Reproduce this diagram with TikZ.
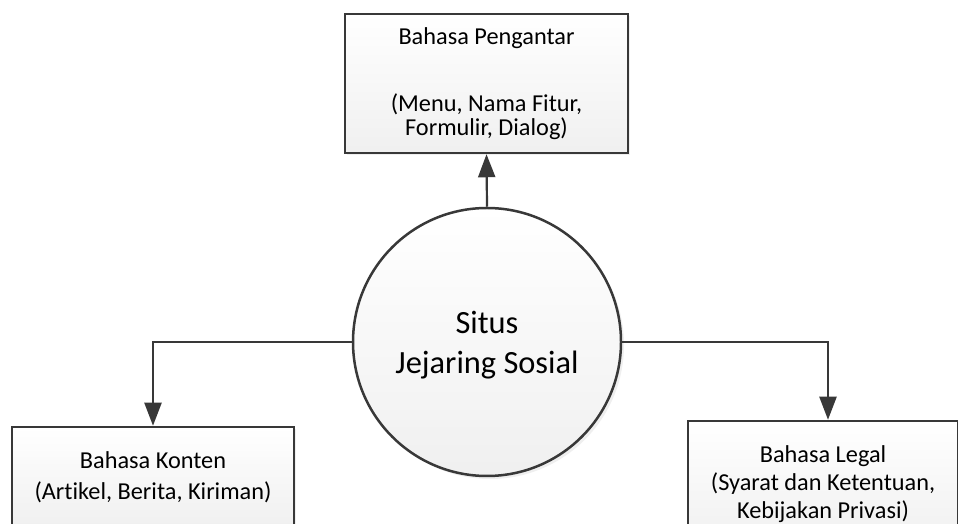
\documentclass[tikz,border=0pt]{standalone}
\usepackage{fontspec}
\setmainfont{Carlito}[Ligatures=NoCommon]
\usetikzlibrary{positioning,arrows.meta,shadows}

\tikzset{
  boxnode/.style={draw=black!78,line width=2.5pt,rectangle,top color=white,bottom color=black!6,
    align=center,inner sep=0pt,drop shadow={shadow xshift=2pt,shadow yshift=-2pt,fill=black!12}},
  hubnode/.style={draw=black!78,line width=2.5pt,circle,top color=white,bottom color=black!6,
    inner sep=0pt,minimum size=268pt,
    drop shadow={shadow xshift=3pt,shadow yshift=-3pt,fill=black!12}},
  flowarrow/.style={draw=black!78,line width=2.2pt,-{Triangle[length=23pt,width=17pt]}}
}

\begin{document}
\begin{tikzpicture}[x=1pt,y=1pt]
\useasboundingbox (0,0) rectangle (958,524);
\fill[white] (0,0) rectangle (958,524);
% centre
\node[hubnode] (situs) at (487,182) {};
\node[align=center,font=\fontsize{32.4}{40}\selectfont] (situstext) at ([yshift=-3pt]situs.center)
  {Situs\\Jejaring Sosial};
% boxes
\node[boxnode,minimum width=283pt,minimum height=139pt,font=\fontsize{24.3}{23.5}\selectfont]
  (pengantar) at (486.5,440.5) {Bahasa Pengantar\\[44pt](Menu, Nama Fitur,\\Formulir, Dialog)};
\node[boxnode,minimum width=282pt,minimum height=101pt,font=\fontsize{24.3}{31}\selectfont]
  (konten) at (153,46.5) {Bahasa Konten\\(Artikel, Berita, Kiriman)};
\node[boxnode,minimum width=270pt,minimum height=126pt,font=\fontsize{24.3}{28}\selectfont]
  (legal) at (823,40) {Bahasa Legal\\(Syarat dan Ketentuan,\\Kebijakan Privasi)};
\coordinate (legaltop) at ([xshift=5pt]legal.north);
% connectors
\draw[flowarrow] (situs.north) -- (pengantar.south);
\draw[flowarrow] (situs.west) -| (konten.north);
\draw[flowarrow] (situs.east) -| (legaltop);
\end{tikzpicture}
\end{document}
